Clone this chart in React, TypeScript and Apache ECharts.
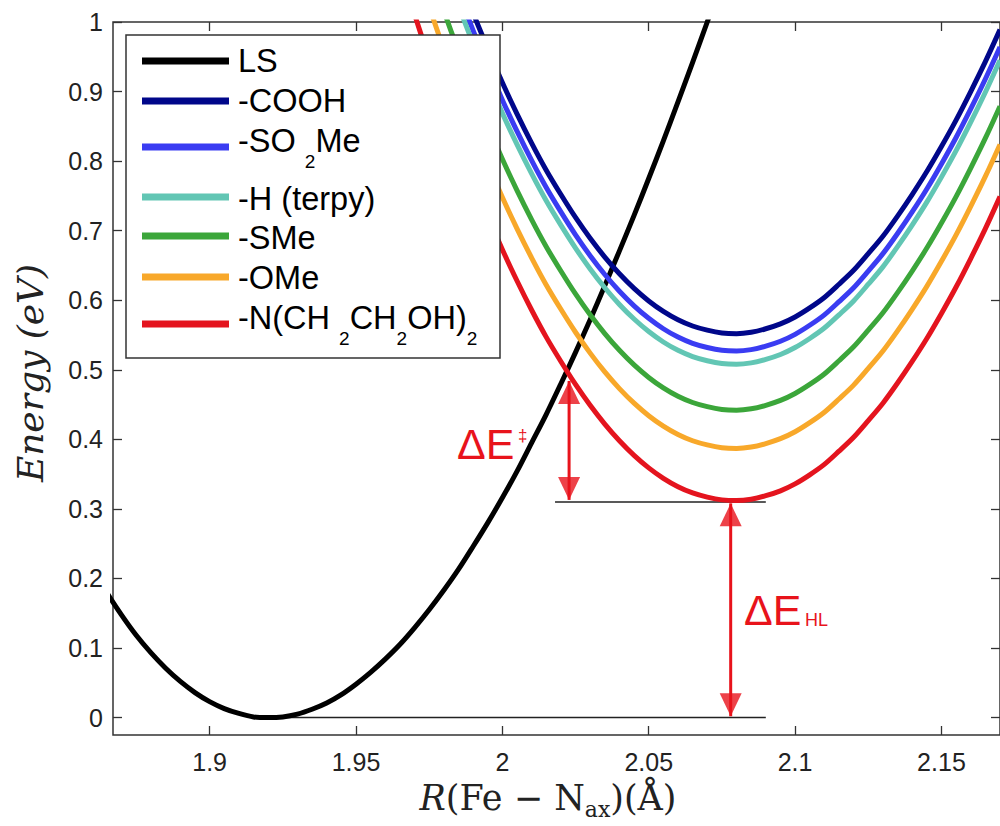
import React, { useEffect, useRef } from "react";
import * as echarts from "echarts";

// ---- data ----
const lsR = [1.86, 1.865, 1.87, 1.875, 1.88, 1.885, 1.89, 1.895, 1.9, 1.905, 1.91, 1.915, 1.92, 1.925, 1.93, 1.935, 1.94, 1.945, 1.95, 1.955, 1.96, 1.965, 1.97, 1.975, 1.98, 1.985, 1.99, 1.995, 2.0, 2.005, 2.01, 2.015, 2.02, 2.025, 2.03, 2.035, 2.04, 2.045, 2.05, 2.055, 2.06, 2.065, 2.07, 2.075];
const lsEnergy = [0.214, 0.179, 0.147, 0.118, 0.093, 0.071, 0.052, 0.036, 0.023, 0.013, 0.006, 0.001, 0.0, 0.001, 0.005, 0.012, 0.021, 0.033, 0.048, 0.065, 0.084, 0.105, 0.129, 0.155, 0.183, 0.213, 0.246, 0.28, 0.316, 0.354, 0.395, 0.436, 0.48, 0.525, 0.572, 0.621, 0.671, 0.722, 0.775, 0.829, 0.885, 0.942, 1.0, 1.059];

const hsR = [1.96, 1.965, 1.97, 1.975, 1.98, 1.985, 1.99, 1.995, 2.0, 2.005, 2.01, 2.015, 2.02, 2.025, 2.03, 2.035, 2.04, 2.045, 2.05, 2.055, 2.06, 2.065, 2.07, 2.075, 2.08, 2.085, 2.09, 2.095, 2.1, 2.105, 2.11, 2.115, 2.12, 2.125, 2.13, 2.135, 2.14, 2.145, 2.15, 2.155, 2.16, 2.165, 2.17];
const hsCOOH = [1.389, 1.319, 1.251, 1.187, 1.126, 1.068, 1.013, 0.962, 0.913, 0.868, 0.826, 0.787, 0.752, 0.719, 0.689, 0.662, 0.638, 0.617, 0.599, 0.584, 0.572, 0.563, 0.557, 0.553, 0.552, 0.554, 0.559, 0.566, 0.576, 0.589, 0.604, 0.623, 0.643, 0.667, 0.692, 0.721, 0.752, 0.785, 0.821, 0.859, 0.9, 0.943, 0.989];
const hsSO2Me = [1.364, 1.294, 1.226, 1.162, 1.101, 1.043, 0.988, 0.937, 0.888, 0.843, 0.801, 0.762, 0.727, 0.694, 0.664, 0.637, 0.613, 0.592, 0.574, 0.559, 0.547, 0.538, 0.532, 0.528, 0.527, 0.529, 0.534, 0.541, 0.551, 0.564, 0.579, 0.598, 0.618, 0.642, 0.667, 0.696, 0.727, 0.76, 0.796, 0.834, 0.875, 0.918, 0.964];
const hsH = [1.345, 1.275, 1.207, 1.143, 1.082, 1.024, 0.969, 0.918, 0.869, 0.824, 0.782, 0.743, 0.708, 0.675, 0.645, 0.618, 0.594, 0.573, 0.555, 0.54, 0.528, 0.519, 0.513, 0.509, 0.508, 0.51, 0.515, 0.522, 0.532, 0.545, 0.56, 0.579, 0.599, 0.623, 0.648, 0.677, 0.708, 0.741, 0.777, 0.815, 0.856, 0.899, 0.945];
const hsSMe = [1.279, 1.209, 1.141, 1.077, 1.016, 0.958, 0.903, 0.852, 0.803, 0.758, 0.716, 0.677, 0.642, 0.609, 0.579, 0.552, 0.528, 0.507, 0.489, 0.474, 0.462, 0.453, 0.447, 0.443, 0.442, 0.444, 0.449, 0.456, 0.466, 0.479, 0.494, 0.513, 0.533, 0.557, 0.582, 0.611, 0.642, 0.675, 0.711, 0.749, 0.79, 0.833, 0.879];
const hsOMe = [1.224, 1.154, 1.086, 1.022, 0.961, 0.903, 0.848, 0.797, 0.748, 0.703, 0.661, 0.622, 0.587, 0.554, 0.524, 0.497, 0.473, 0.452, 0.434, 0.419, 0.407, 0.398, 0.392, 0.388, 0.387, 0.389, 0.394, 0.401, 0.411, 0.424, 0.439, 0.458, 0.478, 0.502, 0.527, 0.556, 0.587, 0.62, 0.656, 0.694, 0.735, 0.778, 0.824];
const hsNEtOH = [1.149, 1.079, 1.011, 0.947, 0.886, 0.828, 0.773, 0.722, 0.673, 0.628, 0.586, 0.547, 0.512, 0.479, 0.449, 0.422, 0.398, 0.377, 0.359, 0.344, 0.332, 0.323, 0.317, 0.313, 0.312, 0.314, 0.319, 0.326, 0.336, 0.349, 0.364, 0.383, 0.403, 0.427, 0.452, 0.481, 0.512, 0.545, 0.581, 0.619, 0.66, 0.703, 0.749];

const seriesLabels = ["LS", "-COOH", "-SO _2Me", "-H (terpy)", "-SMe", "-OMe", "-N(CH _2CH_2OH)_2"];
const seriesColors = ["#000000", "#00078a", "#3a3cf2", "#62c6b4", "#3ba63a", "#f8a82a", "#e4141e"];

const xTicks = [1.9, 1.95, 2, 2.05, 2.1, 2.15];
const xTickLabels = ["1.9", "1.95", "2", "2.05", "2.1", "2.15"];
const yTicks = [0, 0.1, 0.2, 0.3, 0.4, 0.5, 0.6, 0.7, 0.8, 0.9, 1];
const yTickLabels = ["0", "0.1", "0.2", "0.3", "0.4", "0.5", "0.6", "0.7", "0.8", "0.9", "1"];

// annotations
const groundLineR = [1.915, 2.09];
const groundLineE = [0, 0];
const hsMinLineR = [2.018, 2.09];
const hsMinLineE = [0.31, 0.31];
const barrierArrowR = 2.0228;
const barrierArrowE = [0.313, 0.484];
const hlArrowR = 2.078;
const hlArrowE = [0.002, 0.308];

const RED = "#e8131b";

type Seg = { t: string; sub?: boolean; italic?: boolean };

function parseTex(s: string): Seg[] {
  const out: Seg[] = [];
  let buf = "";
  for (let i = 0; i < s.length; i++) {
    if (s[i] === "_" && i + 1 < s.length) {
      if (buf) {
        out.push({ t: buf });
        buf = "";
      }
      out.push({ t: s[i + 1], sub: true });
      i++;
    } else buf += s[i];
  }
  if (buf) out.push({ t: buf });
  return out;
}

export default function App() {
  const ref = useRef<HTMLDivElement>(null);

  useEffect(() => {
    if (!ref.current) return;
    const chart = echarts.init(ref.current, undefined, { renderer: "svg" });

    const canvas = document.createElement("canvas");
    const ctx = canvas.getContext("2d")!;
    const measure = (t: string, font: string) => {
      ctx.font = font;
      return ctx.measureText(t).width;
    };

    const layoutSegs = (
      segs: Seg[],
      x0: number,
      yMain: number,
      mainFont: string,
      subFont: string,
      italicFont: string,
      subDy: number,
      fill: string
    ) => {
      let x = x0;
      const els: any[] = [];
      for (const s of segs) {
        const font = s.sub ? subFont : s.italic ? italicFont : mainFont;
        els.push({
          type: "text",
          x,
          y: s.sub ? yMain + subDy : yMain,
          z: 100,
          style: { text: s.t, font, fill, align: "left", verticalAlign: "middle" },
        });
        x += measure(s.t, font);
      }
      return { els, width: x - x0 };
    };

    const curves = [
      { r: lsR, e: lsEnergy },
      { r: hsR, e: hsCOOH },
      { r: hsR, e: hsSO2Me },
      { r: hsR, e: hsH },
      { r: hsR, e: hsSMe },
      { r: hsR, e: hsOMe },
      { r: hsR, e: hsNEtOH },
    ];

    const graphics: any[] = [];
    // legend box
    graphics.push({
      type: "rect",
      z: 100,
      shape: { x: 126, y: 35, width: 374, height: 323 },
      style: { fill: "#ffffff", stroke: "#333333", lineWidth: 1.5 },
    });
    const textY = [61, 101, 141, 199, 238, 278, 318];
    const lineY = [61, 101, 147, 197, 236, 277, 324];
    const legFont = '32.5px "Liberation Sans"';
    const legSub = '19px "Liberation Sans"';
    seriesLabels.forEach((lab, i) => {
      graphics.push({
        type: "line",
        z: 101,
        shape: { x1: 142, y1: lineY[i], x2: 229, y2: lineY[i] },
        style: { stroke: seriesColors[i], lineWidth: 7 },
      });
      const { els } = layoutSegs(parseTex(lab), 238, textY[i], legFont, legSub, legFont, 20, "#000");
      els.forEach((e) => (e.z = 101));
      graphics.push(...els);
    });

    // annotation texts
    graphics.push({
      type: "text",
      x: 457,
      y: 444,
      z: 100,
      style: { text: "ΔE", font: '43px "Liberation Sans"', fill: RED, align: "left", verticalAlign: "middle" },
    });
    graphics.push({
      type: "text",
      x: 518,
      y: 435,
      z: 100,
      style: { text: "‡", font: '17px "Liberation Sans"', fill: RED, align: "left", verticalAlign: "middle" },
    });
    graphics.push({
      type: "text",
      x: 744,
      y: 610,
      z: 100,
      style: { text: "ΔE", font: '43px "Liberation Sans"', fill: RED, align: "left", verticalAlign: "middle" },
    });
    graphics.push({
      type: "text",
      x: 805,
      y: 620,
      z: 100,
      style: { text: "HL", font: '18px "Liberation Sans"', fill: RED, align: "left", verticalAlign: "middle" },
    });

    // axis titles
    graphics.push({
      type: "text",
      x: 30,
      y: 373,
      rotation: Math.PI / 2,
      z: 100,
      style: {
        text: "Energy (eV)",
        font: 'italic 36px "DejaVu Serif"',
        fill: "#222",
        align: "center",
        verticalAlign: "middle",
      },
    });
    const xTitleSegs: Seg[] = [
      { t: "R", italic: true },
      { t: "(Fe − N" },
      { t: "ax", sub: true },
      { t: ")(Å)" },
    ];
    const mainF = '35px "DejaVu Serif"';
    const subF = '22px "DejaVu Serif"';
    const itF = 'italic 35px "DejaVu Serif"';
    const probe = layoutSegs(xTitleSegs, 0, 0, mainF, subF, itF, 0, "#222");
    const xt = layoutSegs(xTitleSegs, 548 - probe.width / 2, 798, mainF, subF, itF, 11, "#222");
    graphics.push(...xt.els);

    const lineSeries: any[] = curves.map((c, i) => ({
      type: "line",
      name: seriesLabels[i],
      data: c.r.map((r, j) => [r, c.e[j]]),
      smooth: 0.3,
      showSymbol: false,
      symbol: "none",
      lineStyle: { color: seriesColors[i], width: 5, join: "round" },
      z: 5 + i,
      silent: true,
    }));

    const refLine = (rs: number[], es: number[]) => ({
      type: "line",
      data: rs.map((r, j) => [r, es[j]]),
      showSymbol: false,
      symbol: "none",
      lineStyle: { color: "#222", width: 1.5 },
      z: 3,
      silent: true,
    });

    const shaft = (r: number, es: number[]) => ({
      type: "line",
      data: es.map((e) => [r, e]),
      showSymbol: false,
      symbol: "none",
      lineStyle: { color: RED, width: 3 },
      z: 20,
      silent: true,
    });

    const heads = {
      type: "scatter",
      silent: true,
      z: 21,
      symbol: "triangle",
      symbolSize: [22, 23],
      itemStyle: { color: RED },
      data: [
        { value: [barrierArrowR, barrierArrowE[1]], symbolRotate: 0, symbolOffset: [0, 11.5] },
        { value: [barrierArrowR, barrierArrowE[0]], symbolRotate: 180, symbolOffset: [0, -11.5] },
        { value: [hlArrowR, hlArrowE[1]], symbolRotate: 0, symbolOffset: [0, 11.5] },
        { value: [hlArrowR, hlArrowE[0]], symbolRotate: 180, symbolOffset: [0, -11.5] },
      ],
    };

    const tickCommon = { inside: true, length: 9, lineStyle: { color: "#333", width: 1.3 } };
    const labelFont = { fontFamily: "Liberation Sans", fontSize: 25, color: "#222" };

    chart.setOption({
      animation: false,
      backgroundColor: "#ffffff",
      grid: {
        left: 113,
        top: 22,
        width: 891,
        height: 713,
        show: true,
        borderColor: "#333333",
        borderWidth: 1.5,
        backgroundColor: "transparent",
      },
      xAxis: [
        {
          type: "value",
          min: 1.867,
          max: 2.17,
          axisLine: { show: false, onZero: false },
          splitLine: { show: false },
          axisTick: { ...tickCommon, customValues: xTicks },
          axisLabel: {
            ...labelFont,
            margin: 14,
            customValues: xTicks,
            formatter: (v: number) => {
              const k = xTicks.findIndex((t) => Math.abs(t - v) < 1e-9);
              return k >= 0 ? xTickLabels[k] : String(v);
            },
          },
        },
        {
          type: "value",
          position: "top",
          min: 1.867,
          max: 2.17,
          axisLine: { show: false, onZero: false },
          splitLine: { show: false },
          axisTick: { ...tickCommon, customValues: xTicks },
          axisLabel: { show: false },
        },
      ],
      yAxis: [
        {
          type: "value",
          min: -0.025,
          max: 1,
          axisLine: { show: false, onZero: false },
          splitLine: { show: false },
          axisTick: { ...tickCommon, customValues: yTicks },
          axisLabel: {
            ...labelFont,
            margin: 10,
            customValues: yTicks,
            formatter: (v: number) => {
              const k = yTicks.findIndex((t) => Math.abs(t - v) < 1e-9);
              return k >= 0 ? yTickLabels[k] : String(v);
            },
          },
        },
        {
          type: "value",
          position: "right",
          min: -0.025,
          max: 1,
          axisLine: { show: false, onZero: false },
          splitLine: { show: false },
          axisTick: { ...tickCommon, customValues: yTicks },
          axisLabel: { show: false },
        },
      ],
      series: [
        refLine(groundLineR, groundLineE),
        refLine(hsMinLineR, hsMinLineE),
        ...lineSeries,
        shaft(barrierArrowR, barrierArrowE),
        shaft(hlArrowR, hlArrowE),
        heads,
      ],
      graphic: { elements: graphics },
    });

    return () => chart.dispose();
  }, []);

  return (
    <div
      ref={ref}
      style={{ position: "fixed", left: 0, top: 0, width: 1000, height: 826, background: "#fff" }}
    />
  );
}
